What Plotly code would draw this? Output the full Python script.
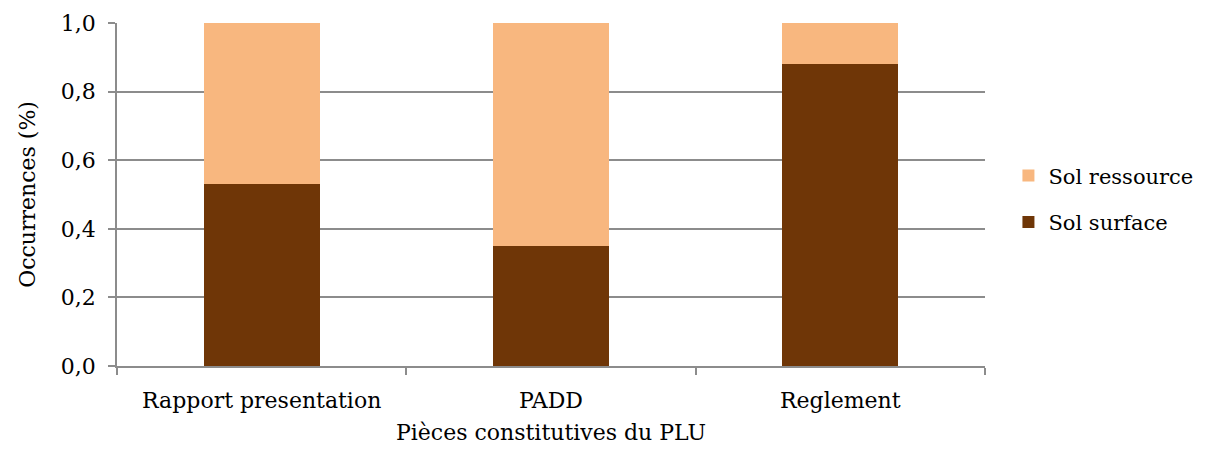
import plotly.graph_objects as go

categories = ["Rapport presentation", "PADD", "Reglement"]
sol_surface = [0.53, 0.35, 0.88]
sol_ressource = [0.47, 0.65, 0.12]
y_ticks = [0.0, 0.2, 0.4, 0.6, 0.8, 1.0]

FONT = "DejaVu Serif"
GRID = "#8c8c8c"
FS = 22

fig = go.Figure()
fig.add_trace(go.Bar(x=categories, y=sol_surface, name="Sol surface",
                     marker=dict(color="#6F3607", line=dict(width=0)),
                     legendgroup="surface", legendrank=2))
fig.add_trace(go.Bar(x=categories, y=sol_ressource, name="Sol ressource",
                     marker=dict(color="#F8B77F", line=dict(width=0)),
                     legendgroup="ressource", legendrank=1))

fig.update_layout(
    width=1197, height=437,
    barmode="stack", bargap=0.6,
    plot_bgcolor="white", paper_bgcolor="white",
    margin=dict(l=109, r=220, t=15, b=79, autoexpand=False),
    font=dict(family=FONT, size=FS, color="#000000"),
    legend=dict(x=1.027, y=0.487, xanchor="left", yanchor="middle",
                traceorder="grouped", tracegroupgap=16,
                font=dict(family=FONT, size=21)),
    xaxis=dict(
        title=dict(text="Pièces constitutives du PLU", standoff=17,
                   font=dict(family=FONT, size=FS)),
        showline=True, linecolor=GRID, linewidth=1.5,
        ticks="outside", tickson="boundaries", ticklen=7, tickcolor=GRID, tickwidth=1.5,
        showgrid=False, tickfont=dict(size=FS), ticklabelstandoff=14,
    ),
    yaxis=dict(
        title=dict(text="Occurrences (%)", standoff=19,
                   font=dict(family=FONT, size=FS)),
        range=[0, 1.0], tickvals=y_ticks, tickformat=".1f",
        showline=True, linecolor=GRID, linewidth=1.5,
        ticks="outside", ticklen=7, tickcolor=GRID, tickwidth=1.5,
        showgrid=True, gridcolor=GRID, gridwidth=1.5, zeroline=False,
        tickfont=dict(size=FS), ticklabelstandoff=8,
    ),
    separators=", ",
)

fig.write_html("out.html")
